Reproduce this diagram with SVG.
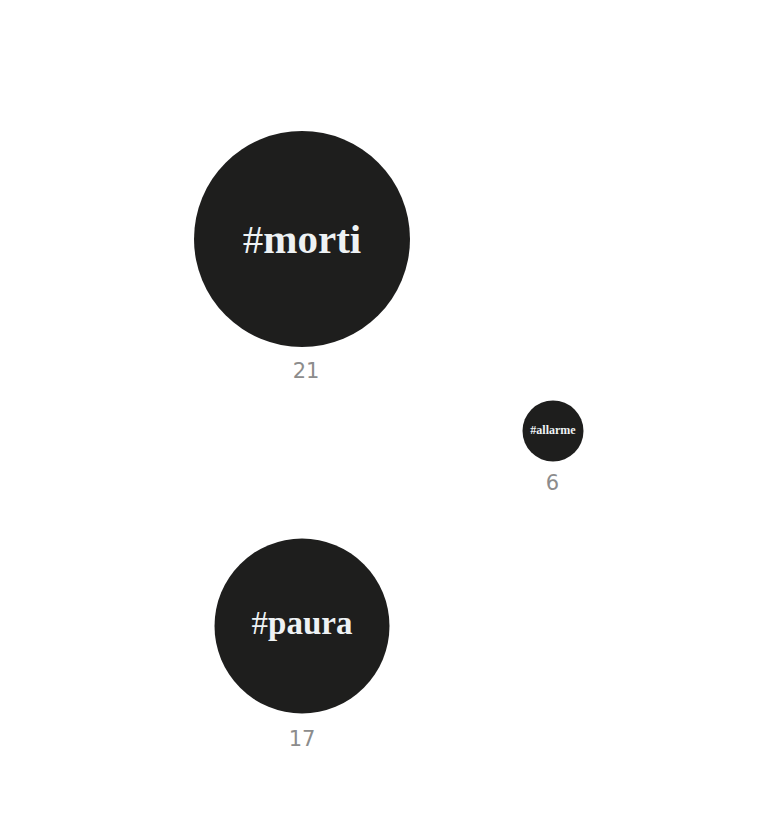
<svg xmlns="http://www.w3.org/2000/svg" width="772" height="834" viewBox="0 0 772 834">
<style>
.bubble{fill:#1e1e1d}
.tag{font-family:"Liberation Serif","DejaVu Serif",serif;font-weight:bold;fill:#eef2f4;text-anchor:middle}
.hash{font-weight:normal}
.count{font-family:"DejaVu Sans","Liberation Sans",sans-serif;fill:#8c8c8c;text-anchor:middle;font-size:21px}
</style>
<rect width="772" height="834" fill="#ffffff"/>
<g id="node-morti">
<circle class="bubble" cx="302" cy="239" r="108"/>
<text class="tag" x="302" y="253" font-size="41"><tspan class="hash">#</tspan>morti</text>
<text class="count" x="306" y="378">21</text>
</g>
<g id="node-allarme">
<circle class="bubble" cx="553" cy="431" r="30.5"/>
<text class="tag" x="553" y="434" font-size="12">#allarme</text>
<text class="count" x="552.5" y="490">6</text>
</g>
<g id="node-paura">
<circle class="bubble" cx="302" cy="626" r="87.5"/>
<text class="tag" x="302" y="634" font-size="33"><tspan class="hash">#</tspan>paura</text>
<text class="count" x="302" y="746">17</text>
</g>
<g id="connectors"/>
</svg>
